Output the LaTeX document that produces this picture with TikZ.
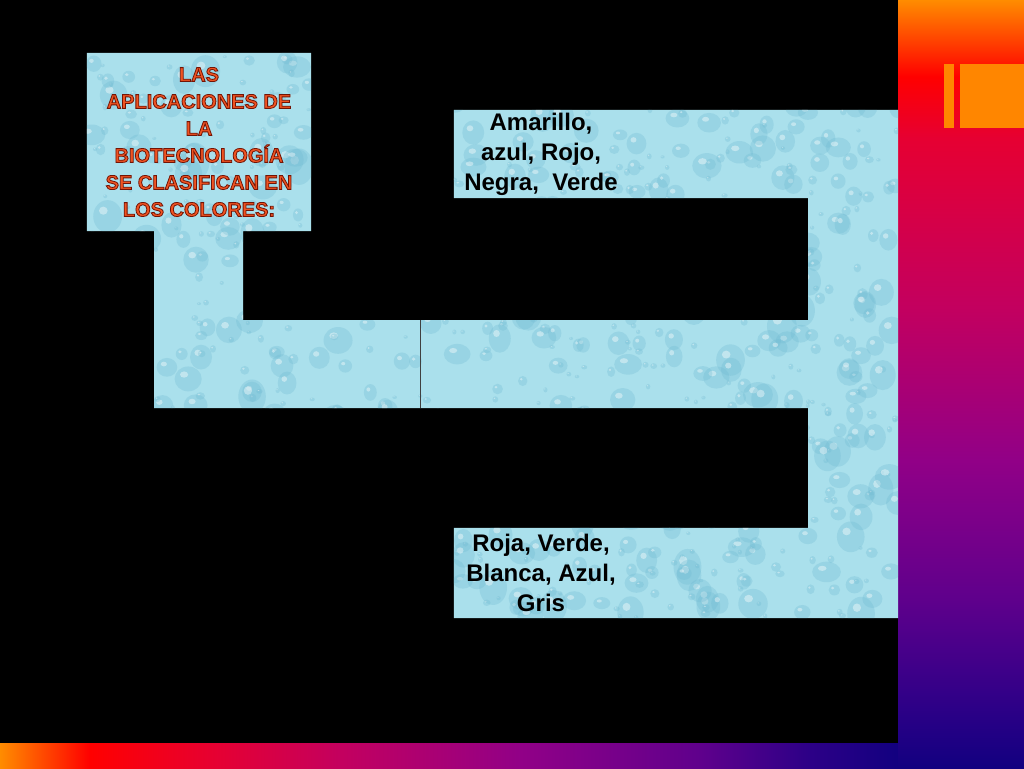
\documentclass[tikz,border=0pt]{standalone}
\usepackage{fontspec}
\setmainfont{Liberation Sans}

\definecolor{drop}{RGB}{170,224,236}
\definecolor{dropshade}{RGB}{112,186,210}
\definecolor{titleorange}{RGB}{240,84,34}
\definecolor{barorange}{RGB}{255,134,0}
\definecolor{sbA}{RGB}{18,0,128}
\definecolor{sbB}{RGB}{45,0,135}
\definecolor{sbC}{RGB}{95,0,140}
\definecolor{sbD}{RGB}{145,0,135}
\definecolor{sbE}{RGB}{195,0,95}
\definecolor{sbF}{RGB}{230,0,50}
\definecolor{sbG}{RGB}{255,0,0}
\definecolor{sbH}{RGB}{255,140,0}

% side bar: navy at the bottom, orange at the top
\pgfdeclareverticalshading{sidebar}{100bp}{color(0bp)=(sbA); color(25bp)=(sbA);
  color(29bp)=(sbB); color(36bp)=(sbC); color(45bp)=(sbD); color(55bp)=(sbE);
  color(66bp)=(sbF); color(70bp)=(sbG); color(75bp)=(sbH); color(100bp)=(sbH)}
% bottom bar: orange on the left, navy on the right
\pgfdeclarehorizontalshading{bottombar}{100bp}{color(0bp)=(sbH); color(25bp)=(sbH);
  color(30bp)=(sbG); color(37bp)=(sbF); color(44bp)=(sbE); color(54bp)=(sbD);
  color(64bp)=(sbC); color(70bp)=(sbB); color(75bp)=(sbA); color(100bp)=(sbA)}

% outlined letters for the heading
\newcommand{\outlined}[1]{\special{pdf:literal 2 Tr 0.8 w 0.45 0.08 0.02 RG}#1\special{pdf:literal 0 Tr}}

\pgfdeclarelayer{background}
\pgfsetlayers{background,main}

\begin{document}
\begin{tikzpicture}[x=1pt, y=-1pt,
    box/.style={inner sep=0pt, align=center},
    colorlist/.style={box, font=\bfseries\fontsize{24}{30}\selectfont,
      minimum width=174pt, minimum height=88pt},
    heading/.style={box, text=titleorange, font=\bfseries\fontsize{20}{27}\selectfont,
      minimum width=224pt, minimum height=178pt}]
        % the three boxes
        \node[heading] (title) at (199,142) {\outlined{LAS\\APLICACIONES DE\\LA\\BIOTECNOLOGÍA\\SE CLASIFICAN EN\\LOS COLORES:}};
        \node[colorlist] (upper) at (541,154) {Amarillo,\\azul, Rojo,\\Negra,\ \ Verde};
        \node[colorlist, minimum height=90pt] (lower) at (541,573) {Roja, Verde,\\Blanca, Azul,\\Gris};
        % corners of the connecting band
        \coordinate (stemtop) at (154,231);
        \coordinate (stembot) at (243,408);
        \coordinate (bandtop) at (243,320);
        \coordinate (colright) at (898,408);
        \coordinate (coltop) at (808,110);
        \coordinate (colbot) at (898,618);
        \coordinate (armtop) at (898,198);
        \coordinate (seamtop) at (420,320);
        \coordinate (seambot) at (420,408);
        % seam in the band
        \draw[black!75, line width=1pt] (seamtop) -- (seambot);
        \begin{pgfonlayer}{background}
            % page and background
            \useasboundingbox (0,0) rectangle (1024,768);
            \fill[black] (0,0) rectangle (1024,768);
            \shade[shading=bottombar] (0,743) rectangle (898,768);
            \shade[shading=sidebar] (898,0) rectangle (1024,768);
            % orange marks at the top right
            \fill[barorange] (944,64) rectangle (954,128);
            \fill[barorange] (960,64) rectangle (1024,128);
            % water drop texture on the boxes and the band
            \begin{scope}
                \clip (title.north west) rectangle (title.south east)
                      (stemtop) rectangle (stembot)
                      (bandtop) rectangle (colright)
                      (upper.north west) rectangle (armtop)
                      (coltop) rectangle (colbot)
                      (lower.north west) rectangle (colbot);
                \fill[drop] (80,50) rectangle (900,620);
                \pgfmathsetseed{17}
                \foreach \i in {1,...,1000} {
                    \pgfmathsetmacro{\px}{87+811*rnd}
                    \pgfmathsetmacro{\py}{53+565*rnd}
                    \pgfmathsetmacro{\rx}{2+13*rnd^2}
                    \pgfmathsetmacro{\ry}{\rx*(0.7+0.6*rnd)}
                    \fill[dropshade, opacity=.3] (\px,\py) ellipse ({\rx} and {\ry});
                    \fill[white, opacity=.4] (\px-0.3*\rx,\py-0.35*\ry) ellipse ({0.3*\rx} and {0.25*\ry});
                }
            \end{scope}
        \end{pgfonlayer}
    \end{tikzpicture}
\end{document}
